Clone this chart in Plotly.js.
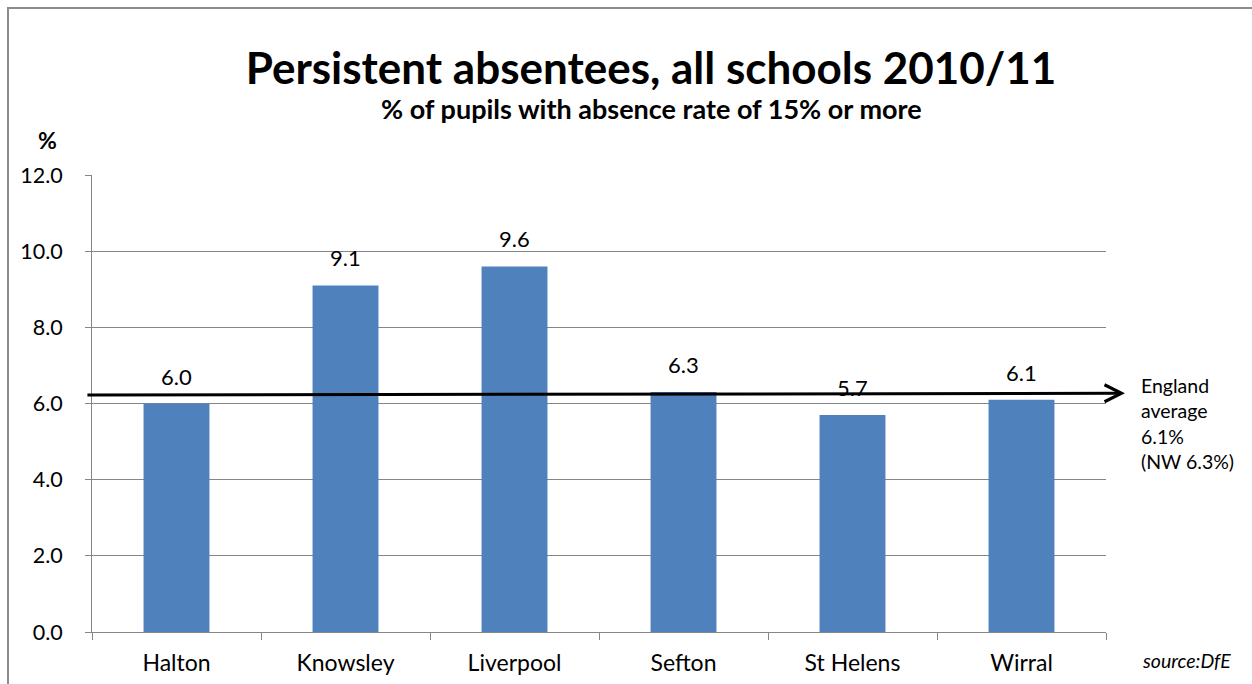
<!DOCTYPE html>
<html>
<head>
<meta charset="utf-8">
<script src="https://cdn.plot.ly/plotly-3.0.1.min.js"></script>
<style>
  html, body { margin: 0; padding: 0; background: #fff; }
  #wrap { position: relative; width: 1252px; height: 684px; overflow: hidden; }
  #chart { width: 1252px; height: 684px; }
  #frame { position: absolute; left: 7px; top: 7px; width: 1300px; height: 700px;
           border-left: 2px solid #8c8c8c; border-top: 2px solid #8c8c8c; pointer-events: none; }
</style>
</head>
<body>
<div id="wrap">
  <div id="chart"></div>
  <div id="frame"></div>
</div>
<script>
const categories = ["Halton", "Knowsley", "Liverpool", "Sefton", "St Helens", "Wirral"];
const values = [6.0, 9.1, 9.6, 6.3, 5.7, 6.1];
const yTicks = [0, 2, 4, 6, 8, 10, 12];
const averageLineStart = 6.22;
const averageLineEnd = 6.27;

const FONT = "Lato, 'Open Sans', sans-serif";

const trace = {
  type: "bar",
  x: categories,
  y: values,
  marker: { color: "#4F81BD" },
  hoverinfo: "x+y"
};

const labelAnnotations = categories.map((c, i) => ({
  x: c, y: values[i], xref: "x", yref: "y",
  text: values[i].toFixed(1), showarrow: false,
  yanchor: "bottom", yshift: 12,
  font: { family: FONT, size: 22, color: "#000" }
}));

const layout = {
  width: 1252, height: 684,
  margin: { l: 92, r: 146, t: 175, b: 52, pad: 0 },
  paper_bgcolor: "#fff", plot_bgcolor: "#fff",
  showlegend: false,
  bargap: 0.61,
  font: { family: FONT, size: 20, color: "#000" },
  title: {
    text: "<b>Persistent absentees, all schools 2010/11</b>",
    font: { family: FONT, size: 44, color: "#000" },
    x: 0.52, xanchor: "center", y: 0.90, yanchor: "middle", yref: "container"
  },
  xaxis: {
    type: "category",
    showgrid: false, zeroline: false,
    showline: true, linecolor: "#868686", linewidth: 1,
    ticks: "outside", tickson: "boundaries", ticklen: 7, tickcolor: "#868686", tickwidth: 1,
    ticklabelstandoff: 10,
    tickfont: { family: FONT, size: 23, color: "#000" },
    fixedrange: true
  },
  yaxis: {
    range: [0, 12], tickvals: yTicks, tickformat: ".1f",
    showgrid: true, gridcolor: "#868686", gridwidth: 1,
    zeroline: false,
    showline: true, linecolor: "#868686", linewidth: 1,
    ticks: "outside", ticklen: 6, tickcolor: "#868686", tickwidth: 1,
    ticklabelstandoff: 18,
    tickfont: { family: FONT, size: 21.5, color: "#000" },
    fixedrange: true
  },
  annotations: labelAnnotations.concat([
    {
      text: "<b>% of pupils with absence rate of 15% or more</b>",
      xref: "paper", yref: "paper", x: 0.552, y: 1.145, xanchor: "center", yanchor: "middle",
      showarrow: false, font: { family: FONT, size: 27, color: "#000" }
    },
    {
      text: "<b>%</b>",
      xref: "paper", yref: "paper", x: -0.044, y: 1.077, xanchor: "center", yanchor: "middle",
      showarrow: false, font: { family: FONT, size: 23, color: "#000" }
    },
    {
      text: "England<br>average<br>6.1%<br>(NW 6.3%)",
      xref: "paper", yref: "y", x: 1.033, y: averageLineEnd, xanchor: "left", yanchor: "top",
      yshift: 21, align: "left", showarrow: false,
      font: { family: FONT, size: 19.5, color: "#000" }
    },
    {
      text: "<i>source:DfE</i>",
      xref: "paper", yref: "paper", x: 1.079, y: -0.063, xanchor: "center", yanchor: "middle",
      showarrow: false, font: { family: FONT, size: 19.5, color: "#000" }
    },
    {
      text: "",
      xref: "paper", yref: "y", x: 1.0187, y: averageLineEnd,
      axref: "paper", ayref: "y", ax: -0.006, ay: averageLineStart,
      showarrow: true, arrowhead: 5, arrowsize: 1.1, arrowwidth: 3, arrowcolor: "#000",
      standoff: 0, startstandoff: 0
    }
  ])
};

Plotly.newPlot("chart", [trace], layout, { displayModeBar: false, staticPlot: true });
</script>
</body>
</html>
